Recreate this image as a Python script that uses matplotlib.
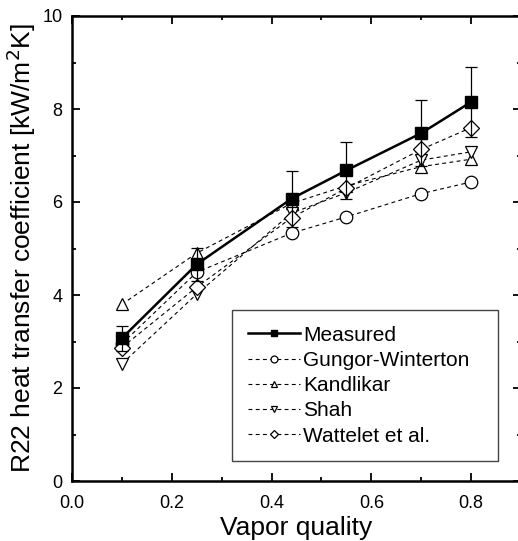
import matplotlib.pyplot as plt
from matplotlib.ticker import MultipleLocator

plt.rcParams['font.family'] = ['Liberation Sans', 'DejaVu Sans']

x = [0.1, 0.25, 0.44, 0.55, 0.7, 0.8]
measured = [3.07, 4.66, 6.07, 6.68, 7.48, 8.15]
err = [0.27, 0.35, 0.60, 0.61, 0.71, 0.76]
gungor = [2.95, 4.49, 5.33, 5.68, 6.18, 6.43]
kandlikar = [3.80, 4.90, 5.97, 6.35, 6.76, 6.92]
shah = [2.52, 4.02, 5.76, 6.20, 6.90, 7.08]
wattelet = [2.87, 4.17, 5.66, 6.30, 7.13, 7.60]

fig = plt.figure(figsize=(5.18, 5.41), dpi=100)
# right spine sits just outside the picture, like in the original scan
ax = fig.add_axes([72/518, 60/541, 449/518, 465/541])

dash = (0, (3.5, 3))
ms = 9
ax.plot(x, gungor, ls=dash, lw=0.8, color='black', marker='o', ms=ms, mfc='white', mec='black', mew=0.9, label='Gungor-Winterton')
ax.plot(x, kandlikar, ls=dash, lw=0.8, color='black', marker='^', ms=ms, mfc='white', mec='black', mew=0.9, label='Kandlikar')
ax.plot(x, shah, ls=dash, lw=0.8, color='black', marker='v', ms=ms, mfc='white', mec='black', mew=0.9, label='Shah')
ax.plot(x, wattelet, ls=dash, lw=0.8, color='black', marker='D', ms=ms-1, mfc='white', mec='black', mew=0.9, label='Wattelet et al.')
ax.errorbar(x, measured, yerr=err, fmt='none', ecolor='black', elinewidth=0.9, capsize=4, capthick=0.9)
ax.plot(x, measured, '-', lw=1.8, color='black', marker='s', ms=ms, mfc='black', mec='black', label='Measured')

ax.set_xlim(0, 0.9)
ax.set_ylim(0, 10)
ax.xaxis.set_major_locator(MultipleLocator(0.2))
ax.xaxis.set_minor_locator(MultipleLocator(0.1))
ax.yaxis.set_major_locator(MultipleLocator(2))
ax.yaxis.set_minor_locator(MultipleLocator(1))
ax.tick_params(which='both', direction='in', top=True, right=True, width=1.3, labelsize=13)
ax.tick_params(which='major', length=6)
ax.tick_params(which='minor', length=3)
ax.tick_params(axis='x', pad=10)
ax.tick_params(axis='y', pad=7)
ax.xaxis.set_major_formatter(plt.FuncFormatter(lambda v, p: '%.1f' % v))
for s in ax.spines.values():
    s.set_linewidth(1.8)

ax.set_xlabel('Vapor quality', fontsize=19, labelpad=3)
ax.set_ylabel('R22 heat transfer coefficient [kW/m$^2$K]', fontsize=19, labelpad=3)

h, l = ax.get_legend_handles_labels()
order = [4, 0, 1, 2, 3]
leg = ax.legend([h[i] for i in order], [l[i] for i in order], loc='upper left',
                bbox_to_anchor=(160/449, (481-310)/465, 266/449, 0), mode='expand',
                borderaxespad=0, fontsize=15, fancybox=False, edgecolor='#444444',
                framealpha=1, markerscale=0.55, handlelength=2.5, handletextpad=0.15,
                labelspacing=0.3, borderpad=0.75)
leg.get_frame().set_linewidth(1.0)

fig.savefig('out.png', dpi=100)
